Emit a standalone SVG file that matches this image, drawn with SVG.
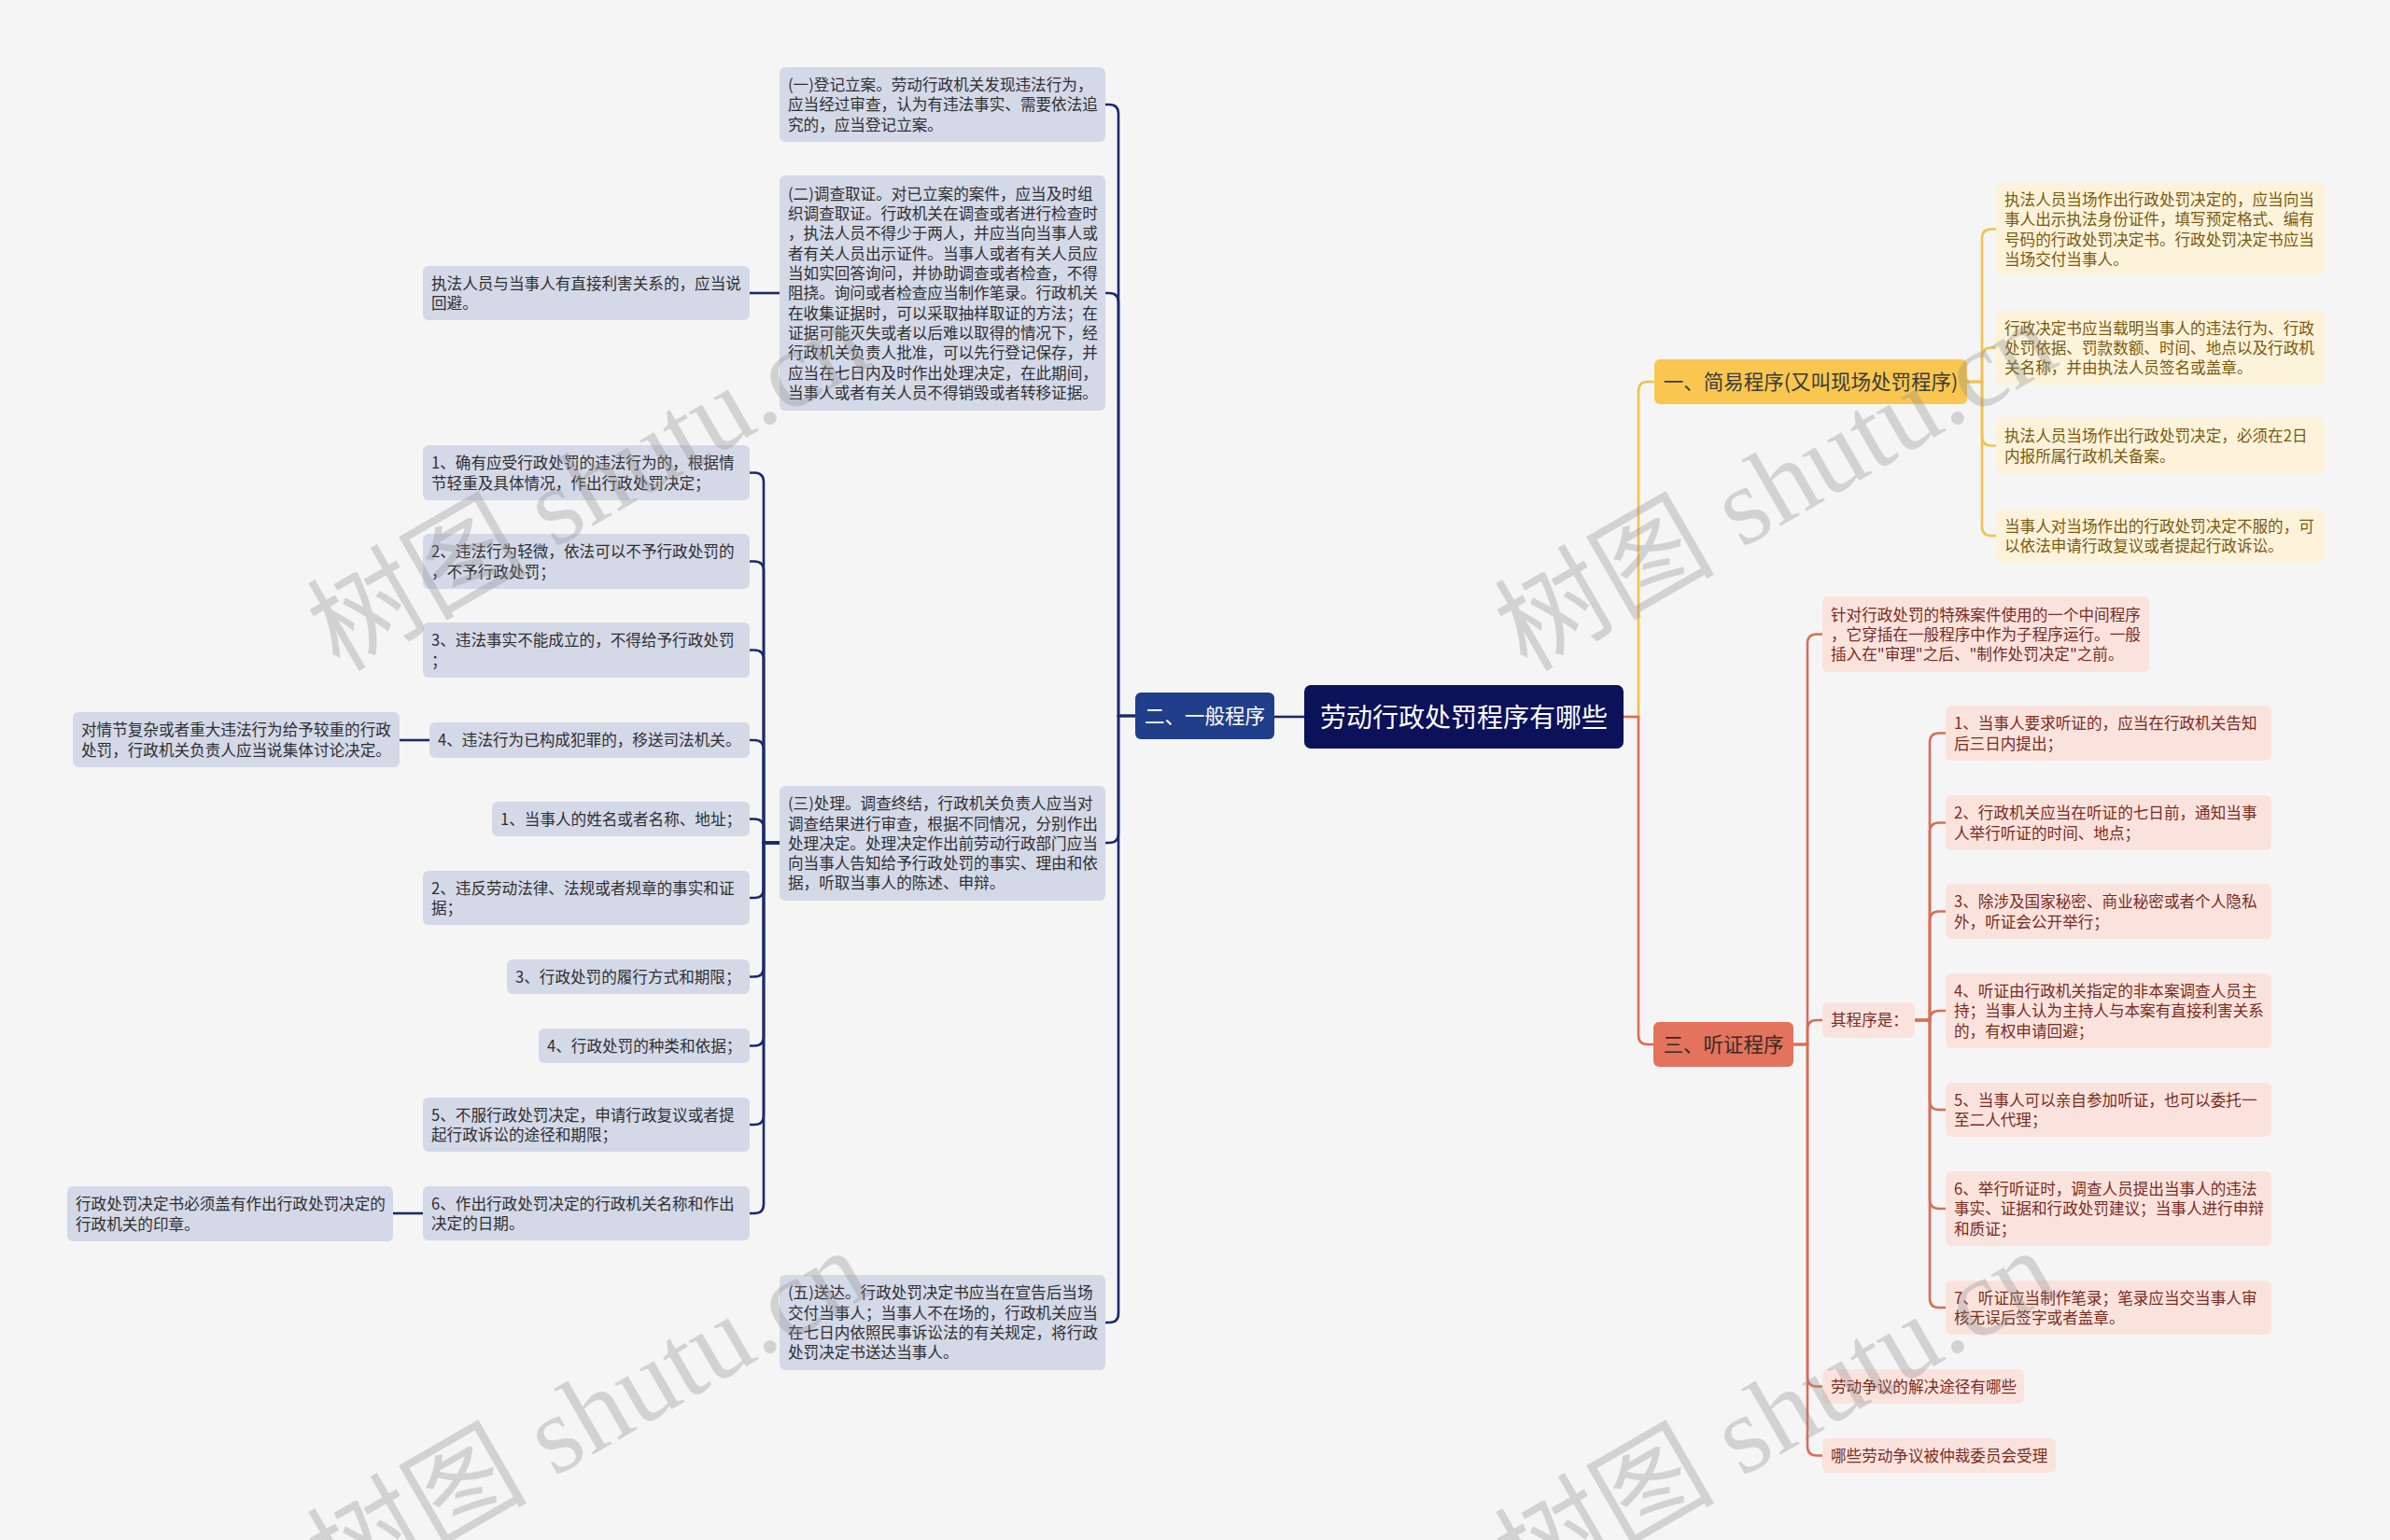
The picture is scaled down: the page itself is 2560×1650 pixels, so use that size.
<svg xmlns="http://www.w3.org/2000/svg" width="2560" height="1650" viewBox="0 0 2560 1650">
<style>
.t{font-family:"Noto Sans CJK SC","Noto Sans",sans-serif;font-size:16.6px}
.tb{fill:#2f2f2f}
.ty{fill:#7a5a10}
.tr{fill:#7a2c1f}
.lb{fill:#d4d9e8}
.ly{fill:#fdf3da}
.lr{fill:#fbe3dd}
.cb{fill:none;stroke:#1c2a6a;stroke-width:2.6}
.cy{fill:none;stroke:#f2c14e;stroke-width:2.6}
.cr{fill:none;stroke:#d96d58;stroke-width:2.6}
.br{font-family:"Noto Sans CJK SC","Noto Sans",sans-serif;font-size:21.5px;text-anchor:middle}
.wm{font-family:"Liberation Serif","Noto Sans CJK SC",serif;font-size:118px;fill:#8c8c8c;opacity:0.32;text-anchor:middle}
</style>
<rect x="0" y="0" width="2560" height="1650" fill="#f5f5f5"/>

<g id="connectors">
<path class="cb" d="M1397 768 H1365"/>
<path class="cb" d="M1216 767 H1198 V122 Q1198 112 1188 112 H1184"/>
<path class="cb" d="M1216 767 H1198 V324 Q1198 314 1188 314 H1184"/>
<path class="cb" d="M1216 767 H1198 V893 Q1198 903 1188 903 H1184"/>
<path class="cb" d="M1216 767 H1198 V1407 Q1198 1417 1188 1417 H1184"/>
<path class="cb" d="M835 314 H803"/>
<path class="cb" d="M835 903 H818 V516.5 Q818 506.5 808 506.5 H803"/>
<path class="cb" d="M835 903 H818 V611.5 Q818 601.5 808 601.5 H803"/>
<path class="cb" d="M835 903 H818 V706.5 Q818 696.5 808 696.5 H803"/>
<path class="cb" d="M835 903 H818 V803 Q818 793 808 793 H803"/>
<path class="cb" d="M835 903 H818 V887.5 Q818 877.5 808 877.5 H803"/>
<path class="cb" d="M835 903 H818 V952 Q818 962 808 962 H803"/>
<path class="cb" d="M835 903 H818 V1036.5 Q818 1046.5 808 1046.5 H803"/>
<path class="cb" d="M835 903 H818 V1110.5 Q818 1120.5 808 1120.5 H803"/>
<path class="cb" d="M835 903 H818 V1195 Q818 1205 808 1205 H803"/>
<path class="cb" d="M835 903 H818 V1290 Q818 1300 808 1300 H803"/>
<path class="cb" d="M460 793 H428"/>
<path class="cb" d="M453 1300 H421"/>
<path class="cy" d="M1739 768 H1755 V419 Q1755 409 1765 409 H1772"/>
<path class="cy" d="M2107 409 H2123 V255.5 Q2123 245.5 2133 245.5 H2138"/>
<path class="cy" d="M2107 409 H2123 V382.5 Q2123 372.5 2133 372.5 H2138"/>
<path class="cy" d="M2107 409 H2123 V467.5 Q2123 477.5 2133 477.5 H2138"/>
<path class="cy" d="M2107 409 H2123 V564 Q2123 574 2133 574 H2138"/>
<path class="cr" d="M1739 768 H1755 V1109 Q1755 1119 1765 1119 H1771"/>
<path class="cr" d="M1921 1119 H1936 V689.5 Q1936 679.5 1946 679.5 H1952"/>
<path class="cr" d="M1921 1119 H1936 V1103 Q1936 1093 1946 1093 H1952"/>
<path class="cr" d="M1921 1119 H1936 V1475.5 Q1936 1485.5 1946 1485.5 H1952"/>
<path class="cr" d="M1921 1119 H1936 V1549.5 Q1936 1559.5 1946 1559.5 H1952"/>
<path class="cr" d="M2051 1093 H2067 V795.5 Q2067 785.5 2077 785.5 H2084"/>
<path class="cr" d="M2051 1093 H2067 V891.5 Q2067 881.5 2077 881.5 H2084"/>
<path class="cr" d="M2051 1093 H2067 V986.5 Q2067 976.5 2077 976.5 H2084"/>
<path class="cr" d="M2051 1093 H2067 V1093 Q2067 1083 2077 1083 H2084"/>
<path class="cr" d="M2051 1093 H2067 V1179 Q2067 1189 2077 1189 H2084"/>
<path class="cr" d="M2051 1093 H2067 V1285 Q2067 1295 2077 1295 H2084"/>
<path class="cr" d="M2051 1093 H2067 V1391 Q2067 1401 2077 1401 H2084"/>
</g>

<g id="root">
<rect x="1397" y="734" width="342" height="68" rx="7" fill="#0c1259"/>
<text x="1568" y="778.6" font-family="Noto Sans CJK SC, sans-serif" font-size="28" fill="#ffffff" text-anchor="middle">劳动行政处罚程序有哪些</text>
</g>

<g id="b2">
<rect x="1216" y="742" width="149" height="50" rx="6" fill="#213e8a"/>
<text class="br" x="1290.5" y="775" fill="#ffffff">二、一般程序</text>
</g>
<g id="b1">
<rect x="1772" y="385" width="335" height="48" rx="6" fill="#f9c74f"/>
<text class="br" x="1939.5" y="417" fill="#3a3a3a">一、简易程序(又叫现场处罚程序)</text>
</g>
<g id="b3">
<rect x="1771" y="1095" width="150" height="48" rx="6" fill="#e3735c"/>
<text class="br" x="1846" y="1127" fill="#3a2a26">三、听证程序</text>
</g>

<g id="n-yi">
<rect class="lb" x="835" y="72" width="349" height="80" rx="6"/>
<text class="t tb" x="844" y="97"><tspan x="844">(一)登记立案。劳动行政机关发现违法行为，</tspan><tspan x="844" dy="21.3">应当经过审查，认为有违法事实、需要依法追</tspan><tspan x="844" dy="21.3">究的，应当登记立案。</tspan></text>
</g>
<g id="n-er">
<rect class="lb" x="835" y="188" width="349" height="252" rx="6"/>
<text class="t tb" x="844" y="213.8"><tspan x="844">(二)调查取证。对已立案的案件，应当及时组</tspan><tspan x="844" dy="21.3">织调查取证。行政机关在调查或者进行检查时</tspan><tspan x="844" dy="21.3">，执法人员不得少于两人，并应当向当事人或</tspan><tspan x="844" dy="21.3">者有关人员出示证件。当事人或者有关人员应</tspan><tspan x="844" dy="21.3">当如实回答询问，并协助调查或者检查，不得</tspan><tspan x="844" dy="21.3">阻挠。询问或者检查应当制作笔录。行政机关</tspan><tspan x="844" dy="21.3">在收集证据时，可以采取抽样取证的方法；在</tspan><tspan x="844" dy="21.3">证据可能灭失或者以后难以取得的情况下，经</tspan><tspan x="844" dy="21.3">行政机关负责人批准，可以先行登记保存，并</tspan><tspan x="844" dy="21.3">应当在七日内及时作出处理决定，在此期间，</tspan><tspan x="844" dy="21.3">当事人或者有关人员不得销毁或者转移证据。</tspan></text>
</g>
<g id="n-san">
<rect class="lb" x="835" y="842" width="349" height="123" rx="6"/>
<text class="t tb" x="844" y="867.2"><tspan x="844">(三)处理。调查终结，行政机关负责人应当对</tspan><tspan x="844" dy="21.3">调查结果进行审查，根据不同情况，分别作出</tspan><tspan x="844" dy="21.3">处理决定。处理决定作出前劳动行政部门应当</tspan><tspan x="844" dy="21.3">向当事人告知给予行政处罚的事实、理由和依</tspan><tspan x="844" dy="21.3">据，听取当事人的陈述、申辩。</tspan></text>
</g>
<g id="n-wu">
<rect class="lb" x="835" y="1366" width="349" height="102" rx="6"/>
<text class="t tb" x="844" y="1391.4"><tspan x="844">(五)送达。行政处罚决定书应当在宣告后当场</tspan><tspan x="844" dy="21.3">交付当事人；当事人不在场的，行政机关应当</tspan><tspan x="844" dy="21.3">在七日内依照民事诉讼法的有关规定，将行政</tspan><tspan x="844" dy="21.3">处罚决定书送达当事人。</tspan></text>
</g>
<g id="n-huibi">
<rect class="lb" x="453" y="285" width="350" height="58" rx="6"/>
<text class="t tb" x="462" y="309.7"><tspan x="462">执法人员与当事人有直接利害关系的，应当说</tspan><tspan x="462" dy="21.3">回避。</tspan></text>
</g>
<g id="n-a1">
<rect class="lb" x="453" y="477" width="350" height="59" rx="6"/>
<text class="t tb" x="462" y="502.2"><tspan x="462">1、确有应受行政处罚的违法行为的，根据情</tspan><tspan x="462" dy="21.3">节轻重及具体情况，作出行政处罚决定；</tspan></text>
</g>
<g id="n-a2">
<rect class="lb" x="453" y="572" width="350" height="59" rx="6"/>
<text class="t tb" x="462" y="597.2"><tspan x="462">2、违法行为轻微，依法可以不予行政处罚的</tspan><tspan x="462" dy="21.3">，不予行政处罚；</tspan></text>
</g>
<g id="n-a3">
<rect class="lb" x="453" y="667" width="350" height="59" rx="6"/>
<text class="t tb" x="462" y="692.2"><tspan x="462">3、违法事实不能成立的，不得给予行政处罚</tspan><tspan x="462" dy="21.3">；</tspan></text>
</g>
<g id="n-a4">
<rect class="lb" x="460" y="774" width="343" height="38" rx="6"/>
<text class="t tb" x="469" y="799.3">4、违法行为已构成犯罪的，移送司法机关。</text>
</g>
<g id="n-d1">
<rect class="lb" x="78" y="763" width="350" height="59" rx="6"/>
<text class="t tb" x="87" y="788.2"><tspan x="87">对情节复杂或者重大违法行为给予较重的行政</tspan><tspan x="87" dy="21.3">处罚，行政机关负责人应当说集体讨论决定。</tspan></text>
</g>
<g id="n-b1">
<rect class="lb" x="527" y="859" width="276" height="37" rx="6"/>
<text class="t tb" x="536" y="883.8">1、当事人的姓名或者名称、地址；</text>
</g>
<g id="n-b2">
<rect class="lb" x="453" y="933" width="350" height="58" rx="6"/>
<text class="t tb" x="462" y="957.7"><tspan x="462">2、违反劳动法律、法规或者规章的事实和证</tspan><tspan x="462" dy="21.3">据；</tspan></text>
</g>
<g id="n-b3">
<rect class="lb" x="543" y="1028" width="260" height="37" rx="6"/>
<text class="t tb" x="552" y="1052.8">3、行政处罚的履行方式和期限；</text>
</g>
<g id="n-b4">
<rect class="lb" x="577" y="1102" width="226" height="37" rx="6"/>
<text class="t tb" x="586" y="1126.8">4、行政处罚的种类和依据；</text>
</g>
<g id="n-b5">
<rect class="lb" x="453" y="1176" width="350" height="58" rx="6"/>
<text class="t tb" x="462" y="1200.7"><tspan x="462">5、不服行政处罚决定，申请行政复议或者提</tspan><tspan x="462" dy="21.3">起行政诉讼的途径和期限；</tspan></text>
</g>
<g id="n-b6">
<rect class="lb" x="453" y="1271" width="350" height="58" rx="6"/>
<text class="t tb" x="462" y="1295.7"><tspan x="462">6、作出行政处罚决定的行政机关名称和作出</tspan><tspan x="462" dy="21.3">决定的日期。</tspan></text>
</g>
<g id="n-d2">
<rect class="lb" x="72" y="1271" width="349" height="59" rx="6"/>
<text class="t tb" x="81" y="1296.2"><tspan x="81">行政处罚决定书必须盖有作出行政处罚决定的</tspan><tspan x="81" dy="21.3">行政机关的印章。</tspan></text>
</g>

<g id="n-y1">
<rect class="ly" x="2138" y="196" width="352" height="99" rx="6"/>
<text class="t ty" x="2147" y="219.9"><tspan x="2147">执法人员当场作出行政处罚决定的，应当向当</tspan><tspan x="2147" dy="21.3">事人出示执法身份证件，填写预定格式、编有</tspan><tspan x="2147" dy="21.3">号码的行政处罚决定书。行政处罚决定书应当</tspan><tspan x="2147" dy="21.3">当场交付当事人。</tspan></text>
</g>
<g id="n-y2">
<rect class="ly" x="2138" y="333" width="352" height="79" rx="6"/>
<text class="t ty" x="2147" y="357.5"><tspan x="2147">行政决定书应当载明当事人的违法行为、行政</tspan><tspan x="2147" dy="21.3">处罚依据、罚款数额、时间、地点以及行政机</tspan><tspan x="2147" dy="21.3">关名称，并由执法人员签名或盖章。</tspan></text>
</g>
<g id="n-y3">
<rect class="ly" x="2138" y="448" width="352" height="59" rx="6"/>
<text class="t ty" x="2147" y="473.2"><tspan x="2147">执法人员当场作出行政处罚决定，必须在2日</tspan><tspan x="2147" dy="21.3">内报所属行政机关备案。</tspan></text>
</g>
<g id="n-y4">
<rect class="ly" x="2138" y="545" width="352" height="58" rx="6"/>
<text class="t ty" x="2147" y="569.7"><tspan x="2147">当事人对当场作出的行政处罚决定不服的，可</tspan><tspan x="2147" dy="21.3">以依法申请行政复议或者提起行政诉讼。</tspan></text>
</g>

<g id="n-r1">
<rect class="lr" x="1952" y="639" width="350" height="81" rx="6"/>
<text class="t tr" x="1961" y="664.5"><tspan x="1961">针对行政处罚的特殊案件使用的一个中间程序</tspan><tspan x="1961" dy="21.3">，它穿插在一般程序中作为子程序运行。一般</tspan><tspan x="1961" dy="21.3">插入在"审理"之后、"制作处罚决定"之前。</tspan></text>
</g>
<g id="n-r2">
<rect class="lr" x="1952" y="1074" width="99" height="38" rx="6"/>
<text class="t tr" x="1961" y="1099.3">其程序是：</text>
</g>
<g id="n-c1">
<rect class="lr" x="2084" y="756" width="349" height="59" rx="6"/>
<text class="t tr" x="2093" y="781.2"><tspan x="2093">1、当事人要求听证的，应当在行政机关告知</tspan><tspan x="2093" dy="21.3">后三日内提出；</tspan></text>
</g>
<g id="n-c2">
<rect class="lr" x="2084" y="852" width="349" height="59" rx="6"/>
<text class="t tr" x="2093" y="877.2"><tspan x="2093">2、行政机关应当在听证的七日前，通知当事</tspan><tspan x="2093" dy="21.3">人举行听证的时间、地点；</tspan></text>
</g>
<g id="n-c3">
<rect class="lr" x="2084" y="947" width="349" height="59" rx="6"/>
<text class="t tr" x="2093" y="972.2"><tspan x="2093">3、除涉及国家秘密、商业秘密或者个人隐私</tspan><tspan x="2093" dy="21.3">外，听证会公开举行；</tspan></text>
</g>
<g id="n-c4">
<rect class="lr" x="2084" y="1043" width="349" height="80" rx="6"/>
<text class="t tr" x="2093" y="1068"><tspan x="2093">4、听证由行政机关指定的非本案调查人员主</tspan><tspan x="2093" dy="21.3">持；当事人认为主持人与本案有直接利害关系</tspan><tspan x="2093" dy="21.3">的，有权申请回避；</tspan></text>
</g>
<g id="n-c5">
<rect class="lr" x="2084" y="1160" width="349" height="58" rx="6"/>
<text class="t tr" x="2093" y="1184.7"><tspan x="2093">5、当事人可以亲自参加听证，也可以委托一</tspan><tspan x="2093" dy="21.3">至二人代理；</tspan></text>
</g>
<g id="n-c6">
<rect class="lr" x="2084" y="1255" width="349" height="80" rx="6"/>
<text class="t tr" x="2093" y="1280"><tspan x="2093">6、举行听证时，调查人员提出当事人的违法</tspan><tspan x="2093" dy="21.3">事实、证据和行政处罚建议；当事人进行申辩</tspan><tspan x="2093" dy="21.3">和质证；</tspan></text>
</g>
<g id="n-c7">
<rect class="lr" x="2084" y="1372" width="349" height="58" rx="6"/>
<text class="t tr" x="2093" y="1396.7"><tspan x="2093">7、听证应当制作笔录；笔录应当交当事人审</tspan><tspan x="2093" dy="21.3">核无误后签字或者盖章。</tspan></text>
</g>
<g id="n-r10">
<rect class="lr" x="1952" y="1467" width="216" height="37" rx="6"/>
<text class="t tr" x="1961" y="1491.8">劳动争议的解决途径有哪些</text>
</g>
<g id="n-r11">
<rect class="lr" x="1952" y="1541" width="250" height="37" rx="6"/>
<text class="t tr" x="1961" y="1565.8">哪些劳动争议被仲裁委员会受理</text>
</g>

<g id="watermark">
<text class="wm" transform="translate(650 555) rotate(-30)">树图 shutu.cn</text>
<text class="wm" transform="translate(1922 555) rotate(-30)">树图 shutu.cn</text>
<text class="wm" transform="translate(650 1550) rotate(-30)">树图 shutu.cn</text>
<text class="wm" transform="translate(1922 1550) rotate(-30)">树图 shutu.cn</text>
</g>
</svg>
